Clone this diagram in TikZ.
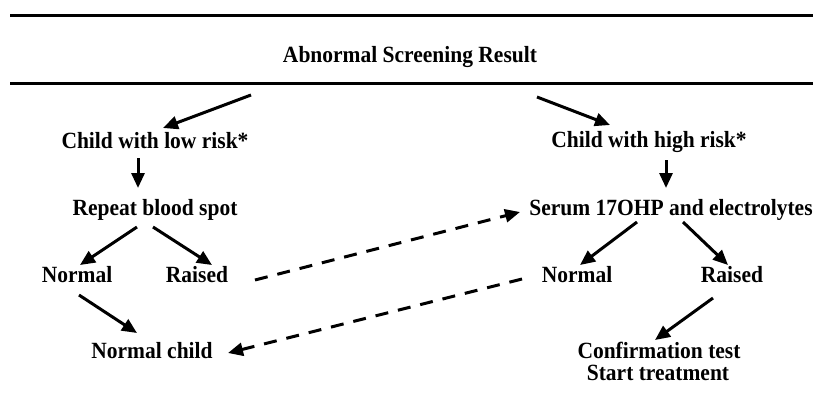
\documentclass[tikz,border=0pt]{standalone}
\usepackage{fontspec}
\setmainfont{Liberation Serif}
\usetikzlibrary{arrows.meta}
\newcommand{\tall}[1]{\scalebox{1}[1.08]{#1}}
\begin{document}
\begin{tikzpicture}[x=1pt,y=-1pt,
  lbl/.style={font=\fontsize{21.5}{25}\selectfont\bfseries, inner sep=0pt, anchor=base},
  rulebar/.style={line width=2.7pt},
  arr/.style={line width=3pt, -{Triangle[length=15pt,width=13pt]}},
  darr/.style={arr, dash pattern=on 13pt off 10pt}]
\useasboundingbox (0,0) rectangle (813,392);
\draw[rulebar] (10,15.3) -- (813,15.3);
\draw[rulebar] (10,83.3) -- (813,83.3);
\node[lbl] (title) at (410,62) {\tall{Abnormal Screening Result}};
\node[lbl] (clow) at (155,148) {\tall{Child with low risk*}};
\node[lbl] (chigh) at (649,147) {\tall{Child with high risk*}};
\node[lbl] (repeat) at (155,215) {\tall{Repeat blood spot}};
\node[lbl] (serum) at (671,215) {\tall{Serum 17OHP and electrolytes}};
\node[lbl] (nl) at (77,282) {\tall{Normal}};
\node[lbl] (rl) at (197,282) {\tall{Raised}};
\node[lbl] (nr) at (577,282) {\tall{Normal}};
\node[lbl] (rr) at (732,282) {\tall{Raised}};
\node[lbl] (nchild) at (152,358) {\tall{Normal child}};
\node[lbl] (confirm) at (659,358) {\tall{Confirmation test}};
\node[lbl] (start) at (658,380) {\tall{Start treatment}};
\draw[arr] ([shift={(-159,33)}]title.base) -- ([shift={(8,-20)}]clow.base);
\draw[arr] ([shift={(127,35)}]title.base) -- ([shift={(-39,-22)}]chigh.base);
\draw[arr] ([shift={(-17,10)}]clow.base) -- ([shift={(-17,-27)}]repeat.base);
\draw[arr] ([shift={(17,13)}]chigh.base) -- ([shift={(-5,-27)}]serum.base);
\draw[arr] ([shift={(-18,12)}]repeat.base) -- ([shift={(3,-17)}]nl.base);
\draw[arr] ([shift={(-2,12)}]repeat.base) -- ([shift={(15,-17)}]rl.base);
\draw[arr] ([shift={(-34,7)}]serum.base) -- ([shift={(3,-17)}]nr.base);
\draw[arr] ([shift={(12,7)}]serum.base) -- ([shift={(-4,-17)}]rr.base);
\draw[arr] ([shift={(2,13)}]nl.base) -- ([shift={(-15,-25)}]nchild.base);
\draw[arr] ([shift={(-19,16)}]rr.base) -- ([shift={(-4,-18)}]confirm.base);
\draw[darr] ([shift={(58,-2)}]rl.base) -- ([shift={(-151,-3)}]serum.base);
\draw[darr] ([shift={(-55,-3)}]nr.base) -- ([shift={(76,-5)}]nchild.base);
\end{tikzpicture}
\end{document}
